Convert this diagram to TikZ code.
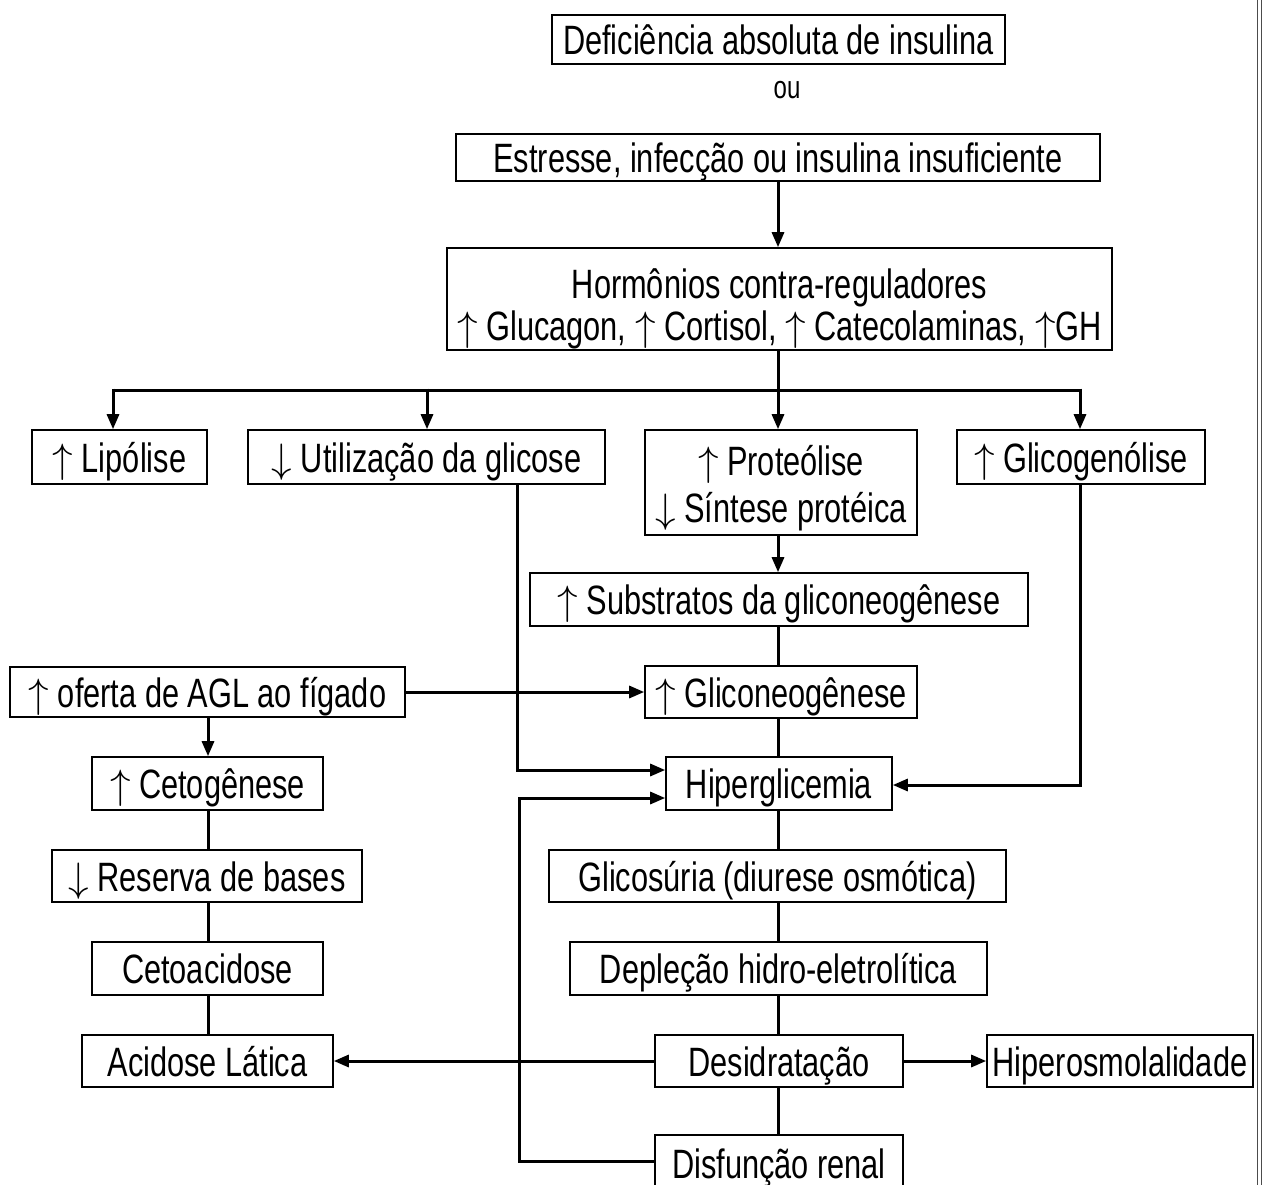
\documentclass[tikz,border=0pt]{standalone}
\usepackage{graphicx}
\usepackage{fontspec}
\setmainfont{Liberation Sans}[FakeStretch=0.75]
\usetikzlibrary{arrows.meta}
\newcommand\arrup{\scalebox{1.65}{$\uparrow$}}
\newcommand\arrdn{\scalebox{1.65}{$\downarrow$}}
\begin{document}
\begin{tikzpicture}[x=1pt,y=-1pt,
  box/.style={draw, line width=1.6pt, inner sep=0pt, font=\fontsize{41}{46}\selectfont, align=center, text height=30pt, text depth=0pt},
  conn/.style={line width=3pt},
  arr/.style={conn, -{Triangle[length=15pt,width=12pt]}}]
\useasboundingbox (0,0) rectangle (1263,1185);
% boxes
\node[box, minimum width=453pt, minimum height=49pt] (b1) at (778.5,39.5) {Deficiência absoluta de insulina};
\node[font=\fontsize{32}{36}\selectfont] (ou) at (787,90) {ou};
\node[box, minimum width=644pt, minimum height=47pt] (b2) at (778,157.5) {Estresse, infecção ou insulina insuficiente};
\node[box, font=\fontsize{41}{42}\selectfont, text height=92pt, text depth=10pt, minimum width=665pt, minimum height=102pt] (b3) at (779.5,299) {Hormônios contra-reguladores\\\arrup{} Glucagon, \arrup{} Cortisol, \arrup{} Catecolaminas, \arrup GH};
\node[box, minimum width=175pt, minimum height=54pt] (lip) at (119.5,457) {\arrup{} Lipólise};
\node[box, minimum width=357pt, minimum height=54pt] (util) at (426.5,457) {\arrdn{} Utilização da glicose};
\node[box, font=\fontsize{41}{47}\selectfont, text height=92pt, text depth=13pt, minimum width=272pt, minimum height=105pt] (prot) at (781,482.5) {\arrup{} Proteólise\\\arrdn{} Síntese protéica};
\node[box, minimum width=248pt, minimum height=54pt] (glic) at (1081,457) {\arrup{} Glicogenólise};
\node[box, minimum width=498pt, minimum height=53pt] (subs) at (779,599.5) {\arrup{} Substratos da gliconeogênese};
\node[box, minimum width=272pt, minimum height=52pt] (gneo) at (781,692) {\arrup{} Gliconeogênese};
\node[box, minimum width=395pt, minimum height=50pt] (ofer) at (207.5,692) {\arrup{} oferta de AGL ao fígado};
\node[box, minimum width=231pt, minimum height=53pt] (ceto) at (207.5,783.5) {\arrup{} Cetogênese};
\node[box, minimum width=226pt, minimum height=53pt] (hiper) at (779,783.5) {Hiperglicemia};
\node[box, minimum width=310pt, minimum height=52pt] (res) at (207,876) {\arrdn{} Reserva de bases};
\node[box, minimum width=457pt, minimum height=52pt] (gsur) at (777.5,876) {Glicosúria (diurese osmótica)};
\node[box, minimum width=231pt, minimum height=53pt] (cac) at (207.5,968.5) {Cetoacidose};
\node[box, minimum width=417pt, minimum height=53pt] (dep) at (778.5,968.5) {Depleção hidro-eletrolítica};
\node[box, minimum width=251pt, minimum height=52pt] (acl) at (207.5,1061) {Acidose Lática};
\node[box, minimum width=248pt, minimum height=52pt] (des) at (779,1061) {Desidratação};
\node[box, minimum width=266pt, minimum height=52pt] (hos) at (1120,1061) {Hiperosmolalidade};
\node[box, minimum width=248pt, minimum height=56pt] (dis) at (779,1163) {Disfunção renal};
% connectors
\draw[arr] (b2.south -| 778,0) -- (b3.north -| 778,0);
\draw[arr] (b3.south -| 778,0) -- (prot.north -| 778,0);
\draw[conn] (113,390) -- (1080,390);
\draw[arr] (113,388.5) -- (lip.north -| 113,0);
\draw[arr] (427,388.5) -- (util.north -| 427,0);
\draw[arr] (1080,388.5) -- (glic.north -| 1080,0);
\draw[arr] (util.south -| 517,0) -- (517,770) -- (hiper.west |- 0,770);
\draw[arr] (prot.south -| 778,0) -- (subs.north -| 778,0);
\draw[conn] (subs.south -| 778,0) -- (gneo.north -| 778,0);
\draw[arr] (ofer.east) -- (gneo.west);
\draw[arr] (ofer.south -| 208,0) -- (ceto.north -| 208,0);
\draw[conn] (gneo.south -| 778,0) -- (hiper.north -| 778,0);
\draw[arr] (glic.south -| 1080,0) -- (1080,785) -- (hiper.east |- 0,785);
\draw[conn] (ceto.south -| 208,0) -- (res.north -| 208,0);
\draw[conn] (res.south -| 208,0) -- (cac.north -| 208,0);
\draw[conn] (cac.south -| 208,0) -- (acl.north -| 208,0);
\draw[conn] (hiper.south -| 778,0) -- (gsur.north -| 778,0);
\draw[conn] (gsur.south -| 778,0) -- (dep.north -| 778,0);
\draw[conn] (dep.south -| 778,0) -- (des.north -| 778,0);
\draw[conn] (des.south -| 778,0) -- (dis.north -| 778,0);
\draw[arr] (des.west) -- (acl.east);
\draw[arr] (des.east) -- (hos.west);
\draw[arr] (dis.west |- 0,1161) -- (519,1161) -- (519,798) -- (hiper.west |- 0,798);
% right edge double line
\draw[line width=1pt, black!70] (1257.8,0) -- (1257.8,1185);
\draw[line width=1pt, black!70] (1261,0) -- (1261,1185);
\end{tikzpicture}
\end{document}
